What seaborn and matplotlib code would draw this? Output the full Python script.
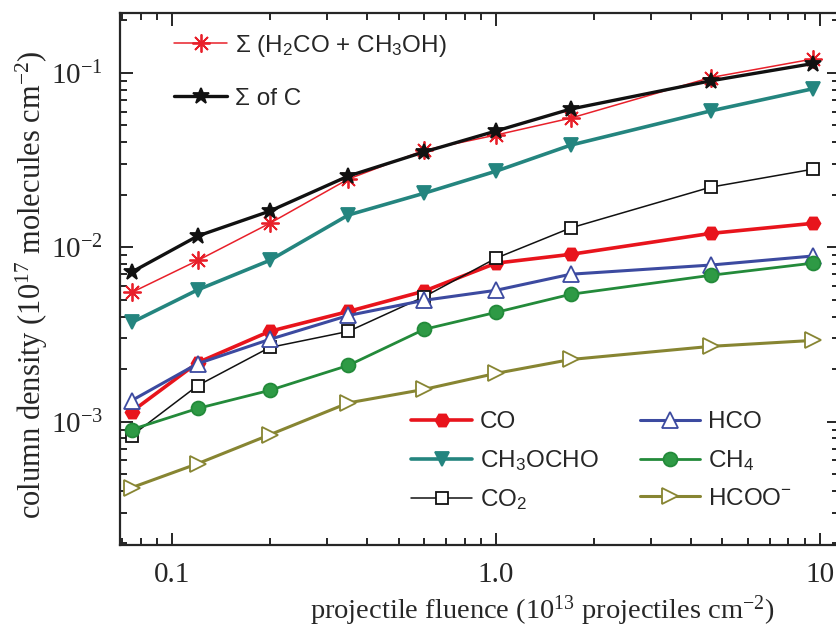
import seaborn as sns
import matplotlib.pyplot as plt
import matplotlib.ticker as mticker
import pandas as pd

# fluence (10^13 projectiles cm^-2)
fluence = [0.075, 0.12, 0.2, 0.35, 0.6, 1.0, 1.7, 4.6, 9.5]

# column densities (10^17 molecules cm^-2)
sum_h2co_ch3oh = [5.5e-3, 8.4e-3, 1.37e-2, 2.46e-2, 3.6e-2, 4.4e-2, 5.5e-2, 9.4e-2, 0.12]
sum_c = [7.2e-3, 1.16e-2, 1.61e-2, 2.56e-2, 3.52e-2, 4.64e-2, 6.2e-2, 9.0e-2, 0.113]
ch3ocho = [3.7e-3, 5.7e-3, 8.4e-3, 1.53e-2, 2.04e-2, 2.73e-2, 3.85e-2, 6.05e-2, 8.1e-2]
co2 = [8.3e-4, 1.61e-3, 2.66e-3, 3.29e-3, 5.2e-3, 8.65e-3, 1.29e-2, 2.21e-2, 2.8e-2]
co = [1.14e-3, 2.18e-3, 3.29e-3, 4.28e-3, 5.6e-3, 8.1e-3, 9.1e-3, 1.2e-2, 1.37e-2]
hco = [1.32e-3, 2.15e-3, 2.96e-3, 4.06e-3, 4.96e-3, 5.66e-3, 7.0e-3, 7.9e-3, 8.9e-3]
ch4 = [9.0e-4, 1.19e-3, 1.51e-3, 2.1e-3, 3.38e-3, 4.23e-3, 5.37e-3, 6.9e-3, 8.1e-3]
hcoo = [4.18e-4, 5.74e-4, 8.4e-4, 1.28e-3, 1.53e-3, 1.89e-3, 2.27e-3, 2.7e-3, 2.92e-3]

sns.set_style("ticks")
plt.rcParams['font.family'] = ['Liberation Serif', 'DejaVu Serif']
plt.rcParams['mathtext.default'] = 'regular'

fig = plt.figure(figsize=(8.36, 6.32), dpi=100)
ax = fig.add_axes([0.1435, 0.1377, 0.86, 0.8415])

# (label, values, color, marker, markerface, linewidth, markersize)
series = [
    ("Σ (H$_2$CO + CH$_3$OH)", sum_h2co_ch3oh, '#e8202a', (8, 2, 0), '#e8202a', 1.1, 13),
    ("Σ of C", sum_c, '#111111', '*', '#111111', 2.4, 12),
    ("CO", co, '#e8141c', 'H', '#e8141c', 2.6, 10),
    ("CH$_3$OCHO", ch3ocho, '#24857f', 'v', '#24857f', 2.6, 10),
    ("CO$_2$", co2, '#111111', 's', 'white', 1.1, 9),
    ("HCO", hco, '#3c4aa0', '^', 'white', 2.2, 11),
    ("CH$_4$", ch4, '#238a3a', 'o', '#2e9a45', 2.0, 10),
    ("HCOO$^{-}$", hcoo, '#878532', '>', 'white', 2.2, 12),
]

handles = {}
for label, vals, color, marker, mfc, lw, ms in series:
    df = pd.DataFrame({'fluence': fluence, 'density': vals})
    sns.lineplot(data=df, x='fluence', y='density', ax=ax, color=color,
                 marker=marker, markerfacecolor=mfc, markeredgecolor=color,
                 markeredgewidth=1.3, linewidth=lw, markersize=ms, legend=False)
    line = ax.lines[-1]
    line.set_label(label)
    handles[label] = line

ax.set_xscale('log')
ax.set_yscale('log')
ax.set_xlim(0.069, 11.45)
ax.set_ylim(1.96e-4, 0.22)

ax.xaxis.set_major_locator(mticker.FixedLocator([0.1, 1.0, 10]))
ax.xaxis.set_major_formatter(mticker.FixedFormatter(['0.1', '1.0', '10']))
ax.xaxis.set_minor_locator(mticker.LogLocator(base=10, subs=range(2, 10)))
ax.xaxis.set_minor_formatter(mticker.NullFormatter())
ax.yaxis.set_major_locator(mticker.FixedLocator([1e-3, 1e-2, 1e-1]))
ax.yaxis.set_major_formatter(mticker.FixedFormatter(['10$^{-3}$', '10$^{-2}$', '10$^{-1}$']))
ax.yaxis.set_minor_locator(mticker.LogLocator(base=10, subs=range(2, 10)))
ax.yaxis.set_minor_formatter(mticker.NullFormatter())

ax.tick_params(which='both', direction='in', top=True, right=True, width=1.4, labelsize=21, pad=12)
ax.tick_params(which='major', length=9)
ax.tick_params(which='minor', length=5)
for sp in ax.spines.values():
    sp.set_linewidth(1.6)

ax.set_xlabel("projectile fluence (10$^{13}$ projectiles cm$^{-2}$)", fontsize=20.5)
ax.set_ylabel("column density (10$^{17}$ molecules cm$^{-2}$)", fontsize=22)
ax.xaxis.set_label_coords(0.587, -0.092)
ax.yaxis.set_label_coords(-0.098, 0.49)

legend_font = {'family': 'Liberation Sans', 'size': 17.5}
top_labels = ["Σ (H$_2$CO + CH$_3$OH)", "Σ of C"]
leg1 = ax.legend([handles[k] for k in top_labels], top_labels, loc='upper left',
                 bbox_to_anchor=(0.048, 1.0), frameon=False, prop=legend_font,
                 labelspacing=1.2, handlelength=2.2, handletextpad=0.3, borderaxespad=0.4)
ax.add_artist(leg1)

bottom_labels = ["CO", "CH$_3$OCHO", "CO$_2$", "HCO", "CH$_4$", "HCOO$^{-}$"]
ax.legend([handles[k] for k in bottom_labels], bottom_labels, loc='lower left',
          bbox_to_anchor=(0.375, 0.02), ncol=2, frameon=False, prop=legend_font,
          labelspacing=0.6, handlelength=2.5, handletextpad=0.3, columnspacing=1.7)

fig.savefig("out.png", dpi=100)
